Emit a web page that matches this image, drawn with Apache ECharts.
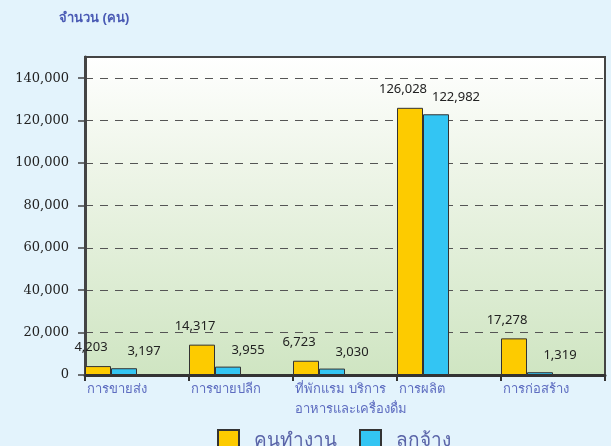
<!DOCTYPE html>
<html>
<head>
<meta charset="utf-8">
<script src="https://cdn.jsdelivr.net/npm/echarts@6/dist/echarts.min.js"></script>
<style>
  html, body { margin: 0; padding: 0; background: #e3f3fc; }
  #chart { width: 611px; height: 446px; }
</style>
</head>
<body>
<div id="chart"></div>
<script>
// หมวดอุตสาหกรรม
var categories = ['การขายส่ง', 'การขายปลีก', 'ที่พักแรม บริการ\nอาหารและเครื่องดื่ม', 'การผลิต', 'การก่อสร้าง'];
var workers = [4203, 14317, 6723, 126028, 17278];   // คนทำงาน
var employees = [3197, 3955, 3030, 122982, 1319];   // ลูกจ้าง
var yTicks = [0, 20000, 40000, 60000, 80000, 100000, 120000, 140000];

var fmt = function (v) {
    return Number(v).toLocaleString('en-US');
};

var chart = echarts.init(document.getElementById('chart'));

var labelStyle = {
    show: true,
    position: 'top',
    fontFamily: 'Noto Sans',
    fontSize: 13,
    color: '#222',
    formatter: function (p) { return fmt(p.value); }
};

chart.setOption({
    backgroundColor: '#e3f3fc',
    animation: false,
    title: {
        text: 'จำนวน (คน)',
        left: 54,
        top: 7,
        textStyle: { fontSize: 13, fontWeight: 'bold', color: '#4a5ab4' }
    },
    legend: {
        data: ['คนทำงาน', 'ลูกจ้าง'],
        left: 212,
        top: 424,
        itemWidth: 21,
        itemHeight: 21,
        itemGap: 22,
        icon: 'rect',
        textStyle: { fontSize: 19, color: '#5a64a8', padding: [0, 0, 0, 10] }
    },
    grid: {
        left: 85,
        right: 6,
        top: 57,
        bottom: 71,
        show: true,
        borderColor: '#444',
        borderWidth: 2,
        backgroundColor: {
            type: 'linear', x: 0, y: 0, x2: 0, y2: 1,
            colorStops: [
                { offset: 0, color: '#ffffff' },
                { offset: 0.35, color: '#eef5e8' },
                { offset: 1, color: '#cfe5c2' }
            ]
        }
    },
    xAxis: {
        type: 'category',
        data: categories,
        boundaryGap: true,
        axisLine: { lineStyle: { color: '#333', width: 3 } },
        axisTick: { show: true, length: 6, interval: 0, lineStyle: { color: '#333', width: 2 } },
        axisLabel: {
            interval: 0,
            margin: 4,
            align: 'center',
            formatter: function (v) {
                return v.split('\n').map(function (s) { return '{a|' + s + '}'; }).join('\n');
            },
            rich: {
                a: { width: 100, align: 'left', fontSize: 13, color: '#5d6cc0', lineHeight: 20 }
            }
        }
    },
    yAxis: {
        type: 'value',
        min: 0,
        max: 150000,
        interval: 20000,
        axisLine: { show: true, lineStyle: { color: '#444', width: 3 } },
        axisTick: { show: true, length: 7, customValues: yTicks, lineStyle: { color: '#444', width: 1.5 } },
        axisLabel: {
            customValues: yTicks,
            margin: 16,
            color: '#222',
            formatter: function (v) { return '{s|' + fmt(v) + '}'; },
            rich: {
                s: { fontFamily: 'DejaVu Serif', fontSize: 13, color: '#222' }
            }
        },
        splitLine: {
            show: true,
            lineStyle: { color: '#555', type: [8, 7], width: 1 }
        }
    },
    series: [
        {
            name: 'คนทำงาน',
            type: 'bar',
            data: workers,
            barGap: '0%',
            barCategoryGap: '0%',
            itemStyle: { color: '#fdcb00', borderColor: '#333', borderWidth: 1 },
            label: Object.assign({}, labelStyle, { offset: [-7, -7] })
        },
        {
            name: 'ลูกจ้าง',
            type: 'bar',
            data: employees,
            itemStyle: { color: '#33c5f3', borderColor: '#333', borderWidth: 1 },
            label: Object.assign({}, labelStyle, { offset: [20, -5] })
        },
        // ช่องว่างด้านขวาของแต่ละกลุ่ม
        { name: 'pad1', type: 'bar', data: [], silent: true },
        { name: 'pad2', type: 'bar', data: [], silent: true }
    ]
});
</script>
</body>
</html>
